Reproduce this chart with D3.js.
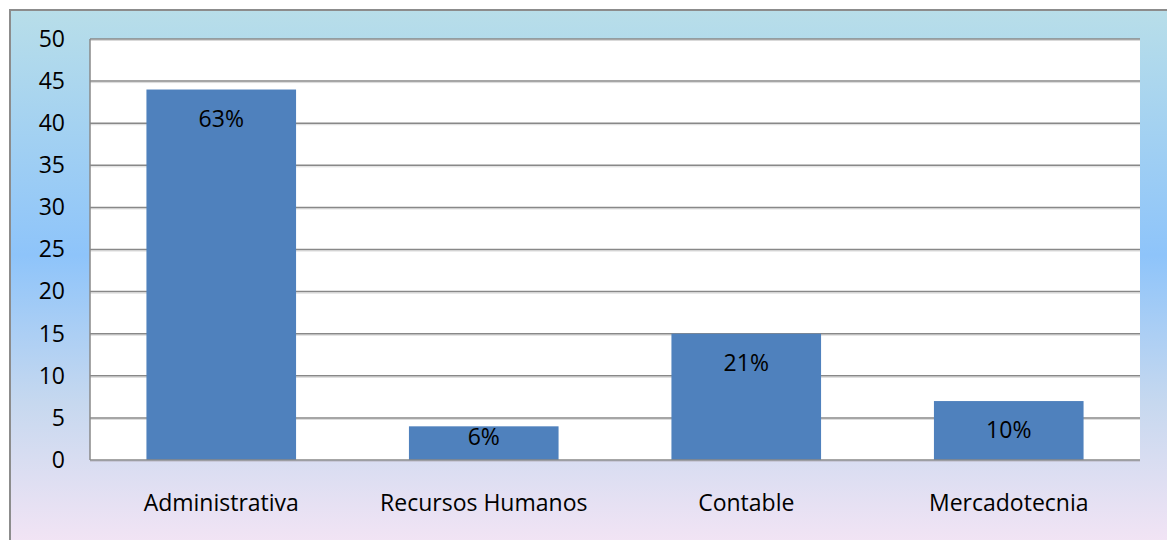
<!DOCTYPE html>
<html><head><meta charset="utf-8">
<script src="https://cdn.jsdelivr.net/npm/d3@7/dist/d3.min.js"></script>
<style>html,body{margin:0;padding:0;background:#fff;}svg{display:block;}</style>
</head><body>
<svg id="c" width="1167" height="540"></svg>
<script>
const categories = ["Administrativa", "Recursos Humanos", "Contable", "Mercadotecnia"];
const values = [44, 4, 15, 7];
const labels = ["63%", "6%", "21%", "10%"];
const yTicks = [0, 5, 10, 15, 20, 25, 30, 35, 40, 45, 50];

const svg = d3.select("#c");
const font = "'Open Sans', 'Noto Sans', sans-serif";
const fs = 23;
const defs = svg.append("defs");
const g = defs.append("linearGradient").attr("id","bg").attr("x1",0).attr("y1",0).attr("x2",0).attr("y2",1);
[["0%","#b8dee9"],["45%","#8ec4fa"],["72%","#c6d8ef"],["100%","#f6e5f5"]].forEach(s=>g.append("stop").attr("offset",s[0]).attr("stop-color",s[1]));

svg.append("rect").attr("x",10).attr("y",10).attr("width",1170).attr("height",545)
  .attr("fill","url(#bg)").attr("stroke","#8c8c8c").attr("stroke-width",2);

const L=90, R=1140, T=39, B=460;
const x = d3.scaleBand().domain(categories).range([L,R]).paddingInner(0.43).paddingOuter(0.215);
const y = d3.scaleLinear().domain([0,50]).range([B,T]);

svg.append("rect").attr("x",L).attr("y",T).attr("width",R-L).attr("height",B-T).attr("fill","#fff");

const grid = svg.append("g");
yTicks.filter(t=>t>0).forEach(t=>{
  grid.append("line").attr("x1",L).attr("x2",R).attr("y1",y(t)+1.5).attr("y2",y(t)+1.5).attr("stroke","#d9d9d9").attr("stroke-width",1);
  grid.append("line").attr("x1",L).attr("x2",R).attr("y1",y(t)).attr("y2",y(t)).attr("stroke","#888").attr("stroke-width",1.5);
});

svg.append("g").selectAll("rect").data(values).join("rect")
  .attr("x",(d,i)=>x(categories[i])).attr("width",x.bandwidth())
  .attr("y",d=>y(d)).attr("height",d=>y(0)-y(d)).attr("fill","#4f81bd");

svg.append("line").attr("x1",L).attr("x2",L).attr("y1",T).attr("y2",B).attr("stroke","#888").attr("stroke-width",1.5);
svg.append("line").attr("x1",L).attr("x2",R).attr("y1",B).attr("y2",B).attr("stroke","#888").attr("stroke-width",1.5);
svg.append("line").attr("x1",L).attr("x2",R).attr("y1",B+1.5).attr("y2",B+1.5).attr("stroke","#c8c8d8").attr("stroke-width",1);

const yAxis = d3.axisLeft(y).tickValues(yTicks).tickSize(0).tickPadding(25);
const ya = svg.append("g").attr("transform",`translate(${L},0)`).call(yAxis);
ya.select(".domain").remove();
ya.selectAll("text").attr("font-family",font).attr("font-size",fs).attr("fill","#000");

const xAxis = d3.axisBottom(x).tickSize(0).tickPadding(35);
const xa = svg.append("g").attr("transform",`translate(0,${B})`).call(xAxis);
xa.select(".domain").remove();
xa.selectAll("text").attr("font-family",font).attr("font-size",fs).attr("fill","#000");

svg.append("g").selectAll("text").data(values).join("text")
  .attr("x",(d,i)=>x(categories[i])+x.bandwidth()/2)
  .attr("y",d=>Math.min(y(d)+29, y(0)-23))
  .attr("dy","0.35em").attr("text-anchor","middle")
  .attr("font-family",font).attr("font-size",fs).attr("fill","#000")
  .text((d,i)=>labels[i]);
</script>
</body></html>
